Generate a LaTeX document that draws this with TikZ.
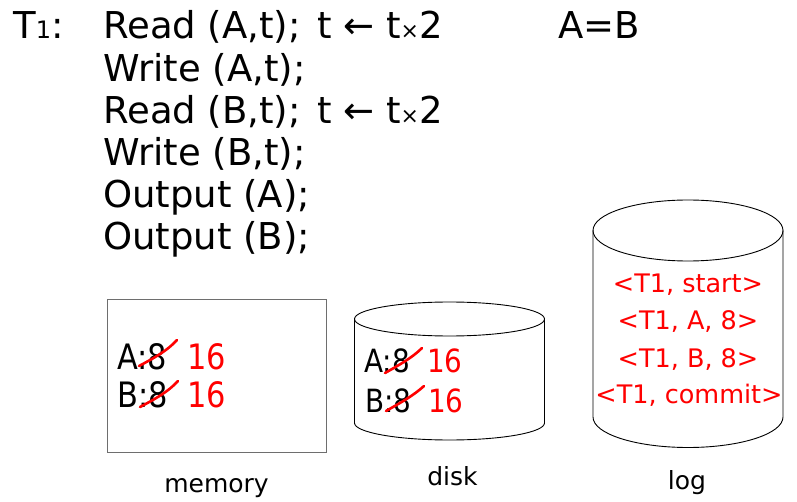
\documentclass[tikz,border=0pt]{standalone}
\usepackage{fontspec}
\setmainfont{DejaVu Sans}
\newfontfamily\narrowfont[FakeStretch=0.87]{DejaVu Sans}
\definecolor{boxgray}{HTML}{6E6E6E}
\definecolor{logred}{HTML}{FF0000}
\begin{document}
\begin{tikzpicture}[x=1pt,y=-1pt,
  txt/.style={inner sep=0pt, anchor=base west, font=\fontsize{37}{40}\selectfont},
  memtxt/.style={inner sep=0pt, anchor=base west, font=\narrowfont\fontsize{35}{40}\selectfont},
  dsktxt/.style={inner sep=0pt, anchor=base west, font=\narrowfont\fontsize{32}{36}\selectfont},
  newval/.style={text=logred},
  logtxt/.style={inner sep=0pt, anchor=base, text=logred, font=\fontsize{25.5}{28}\selectfont},
  lbl/.style={inner sep=0pt, anchor=base, font=\fontsize{25}{28}\selectfont},
  strike/.style={draw=logred, line width=2.6pt, line cap=round},
  cyl/.style={draw=black, line width=0.9pt}]
\useasboundingbox (0,0) rectangle (797,502);

% transaction
\node[txt] (tname) at (13,39) {T{\fontsize{24}{24}\selectfont 1}:};
\node[txt] (l1) at (103,39) {Read (A,t);};
\node[txt] (c1) at (317,39) {t ← t{\fontsize{22}{22}\selectfont ×}2};
\node[txt] (eq) at (558,39) {A=B};
\node[txt] (l2) at (103,81.2) {Write (A,t);};
\node[txt] (l3) at (103,123.4) {Read (B,t);};
\node[txt] (c3) at (317,123.4) {t ← t{\fontsize{22}{22}\selectfont ×}2};
\node[txt] (l4) at (103,165.6) {Write (B,t);};
\node[txt] (l5) at (103,207.8) {Output (A);};
\node[txt] (l6) at (103,250) {Output (B);};

% memory
\node[draw=boxgray, line width=1.3pt, minimum width=219pt, minimum height=153pt,
      inner sep=0pt, anchor=north west] (mem) at (107,299) {};
\node[memtxt] (memA) at (117,369) {A:8};
\node[memtxt, newval] (memA16) at (187,369) {16};
\node[memtxt] (memB) at (117,407) {B:8};
\node[memtxt, newval] (memB16) at (187,407) {16};
\draw[strike] (139,366) .. controls (154,358) and (167,351) .. (177,340);
\draw[strike] (140,407) .. controls (155,399) and (168,392) .. (178,381);
\node[lbl] (memlbl) at (216.5,492) {memory};

% disk
\coordinate (diskc) at (449.5,319);
\draw[cyl] (diskc) ellipse [x radius=95pt, y radius=17pt];
\draw[cyl] (354.5,319) -- (354.5,423)
  .. controls (354.5,432.39) and (397.03,440) .. (449.5,440)
  .. controls (501.97,440) and (544.5,432.39) .. (544.5,423) -- (544.5,319);
\node[dsktxt] (dskA) at (364,372) {A:8};
\node[dsktxt, newval] (dskA16) at (427,372) {16};
\node[dsktxt] (dskB) at (365,412) {B:8};
\node[dsktxt, newval] (dskB16) at (428,412) {16};
\draw[strike] (385,373) .. controls (399,365) and (412,358) .. (422,348);
\draw[strike] (386,411) .. controls (400,403) and (413,396) .. (424,386);
\node[lbl] (disklbl) at (452.5,485) {disk};

% log
\coordinate (logc) at (688,230.5);
\draw[cyl] (logc) ellipse [x radius=95pt, y radius=30.5pt];
\draw[cyl] (593,230.5) -- (593,417)
  .. controls (593,433.85) and (635.53,447.5) .. (688,447.5)
  .. controls (740.47,447.5) and (783,433.85) .. (783,417) -- (783,230.5);
\node[logtxt] (log1) at (688,293) {<T1, start>};
\node[logtxt] (log2) at (688,330) {<T1, A, 8>};
\node[logtxt] (log3) at (688,367) {<T1, B, 8>};
\node[logtxt] (log4) at (689,403) {<T1, commit>};
\node[lbl] (loglbl) at (687,489) {log};
\end{tikzpicture}
\end{document}
